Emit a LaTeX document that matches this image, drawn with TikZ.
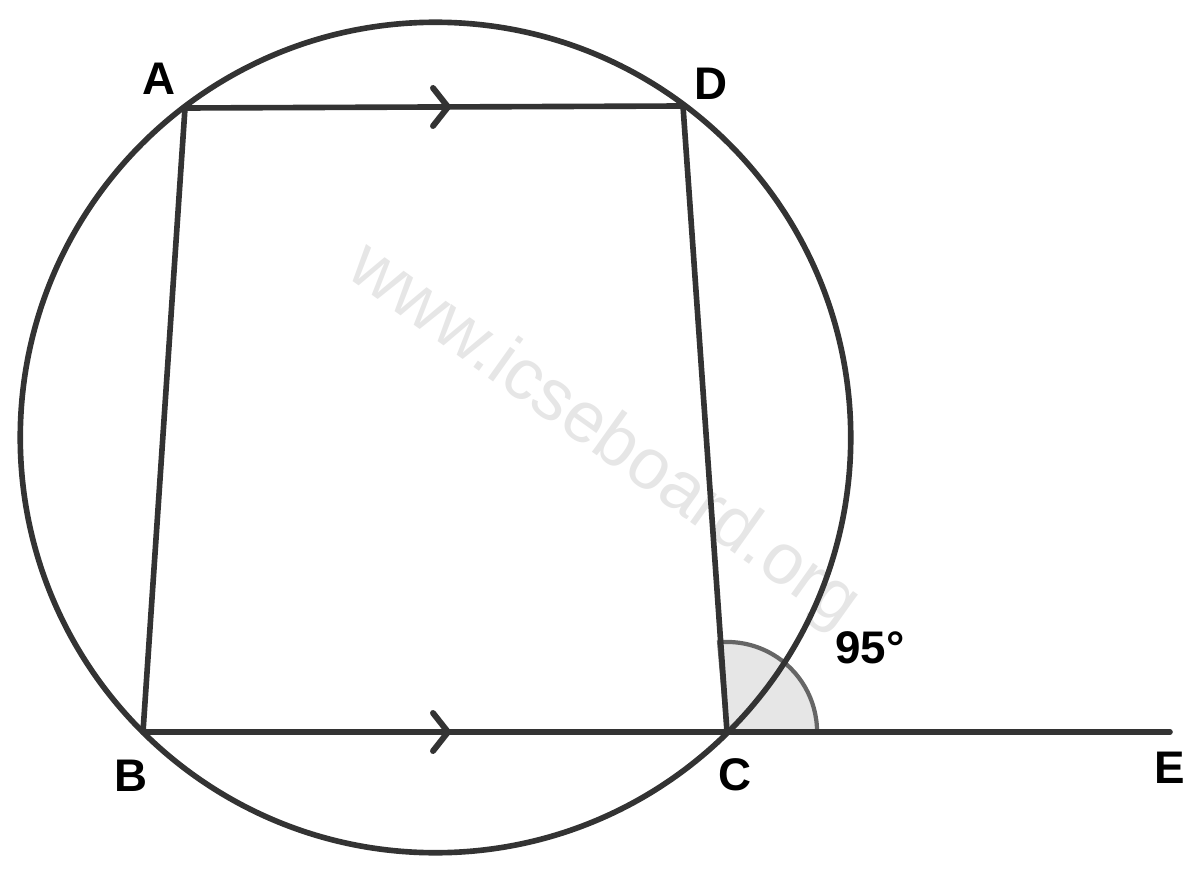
\documentclass[tikz,border=0pt]{standalone}
\usepackage{fontspec}
\setmainfont{Liberation Sans}
\usepackage{tikz}
\usetikzlibrary{calc}

\definecolor{inkgray}{HTML}{333333}
\definecolor{anglegray}{HTML}{666666}
\definecolor{shadegray}{HTML}{E6E6E6}

\tikzset{
	figline/.style = {draw=inkgray, line width=1.6pt, line cap=round, line join=round},
	chevron/.style = {draw=inkgray, line width=1.7pt, line cap=round, line join=miter},
	ptlabel/.style = {font=\bfseries\fontsize{13}{15}\selectfont, text=black, inner sep=0pt}
}

\begin{document}
\begin{tikzpicture}[x=0.01cm, y=-0.01cm]
	\useasboundingbox (0,0) rectangle (1200,873);
	% watermark
	\node (wm) at (603,437) [rotate=-35.5, text=shadegray, inner sep=0pt,
		font=\fontsize{20.5}{22}\selectfont] {www.icseboard.org};
	% points
	\coordinate (O) at (435.5,437.5);
	\coordinate (A) at (185,108);
	\coordinate (D) at (683,106);
	\coordinate (B) at (143,732);
	\coordinate (C) at (727,732);
	\coordinate (E) at (1170,732);
	\coordinate (mAD) at (448,107);
	\coordinate (mBC) at (448,732);
	% angle DCE
	\filldraw[fill=shadegray, draw=anglegray, line width=1.2pt]
		(C) -- ++(0.9cm,0) arc[start angle=0, end angle=95, radius=0.9cm] -- cycle;
	% circle and trapezium
	\draw[figline] (O) circle[radius=4.15cm];
	\path[figline] (A) edge (D) (D) edge (C) (A) edge (B) (B) edge (C) (C) edge (E);
	% parallel marks
	\draw[chevron] ($(mAD)+(-15,-19)$) -- (mAD) -- ($(mAD)+(-15,19)$);
	\draw[chevron] ($(mBC)+(-15,-19)$) -- (mBC) -- ($(mBC)+(-15,19)$);
	% labels
	\begin{scope}[every node/.style = {ptlabel}]
		\node (lA) at (159,79) {A};
		\node (lD) at (711,84) {D};
		\node (lB) at (131,776) {B};
		\node (lC) at (735,775) {C};
		\node (lE) at (1170,768) {E};
		\node (lang) at (870,648) {95°};
	\end{scope}
\end{tikzpicture}
\end{document}
